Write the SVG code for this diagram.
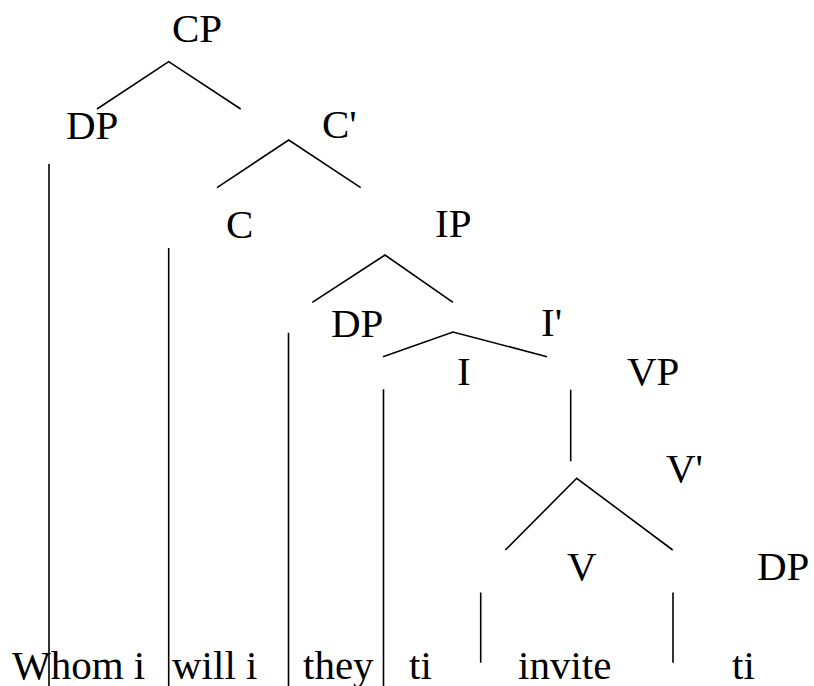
<svg xmlns="http://www.w3.org/2000/svg" width="814" height="686" viewBox="0 0 814 686">
  <style>
    text { font-family: "Liberation Serif", "Times New Roman", serif; font-size: 41px; fill: #000; }
    .edge { fill: none; stroke: #000; stroke-width: 1.6; }
  </style>
  <rect width="814" height="686" fill="#fff"/>

  <!-- branches of the tree -->
  <g id="connectors">
    <path class="edge" d="M97,109 L168.7,61.7 L240.7,109"/>
    <path class="edge" d="M217,187.7 L288.7,140 L360.7,187.7"/>
    <path class="edge" d="M312.3,302.3 L385,255 L453,302.3"/>
    <path class="edge" d="M383,356.7 L453,332 L547,356.7"/>
    <path class="edge" d="M570.7,389.7 L570.7,461.3"/>
    <path class="edge" d="M505.3,550 L576.7,478.3 L672.7,550"/>
    <!-- word separators -->
    <path class="edge" d="M49,164 L49,686"/>
    <path class="edge" d="M168.7,248 L168.7,686"/>
    <path class="edge" d="M288.5,332.7 L288.5,686"/>
    <path class="edge" d="M383.5,389.3 L383.5,686"/>
    <path class="edge" d="M480.7,592.5 L480.7,662.7"/>
    <path class="edge" d="M673,592.5 L673,662.7"/>
  </g>

  <!-- category labels -->
  <g id="node-cp"><text x="172" y="42">CP</text></g>
  <g id="node-dp-spec"><text x="66" y="139">DP</text></g>
  <g id="node-cbar"><text x="322" y="138">C'</text></g>
  <g id="node-c"><text x="226" y="238">C</text></g>
  <g id="node-ip"><text x="435" y="237">IP</text></g>
  <g id="node-dp-subj"><text x="331" y="337">DP</text></g>
  <g id="node-ibar"><text x="541" y="336">I'</text></g>
  <g id="node-i"><text x="457" y="385">I</text></g>
  <g id="node-vp"><text x="627" y="385">VP</text></g>
  <g id="node-vbar"><text x="666" y="482">V'</text></g>
  <g id="node-v"><text x="567" y="580">V</text></g>
  <g id="node-dp-obj"><text x="757" y="580">DP</text></g>

  <!-- terminal words -->
  <g id="words">
    <text x="12" y="679">Whom i</text>
    <text x="172" y="679">will i</text>
    <text x="303" y="679">they</text>
    <text x="409" y="679">ti</text>
    <text x="518" y="679">invite</text>
    <text x="732" y="679">ti</text>
  </g>
</svg>
